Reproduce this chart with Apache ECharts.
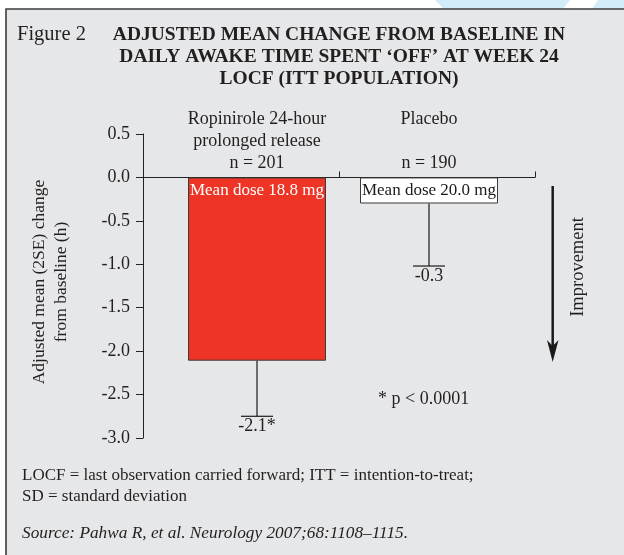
<!DOCTYPE html>
<html>
<head>
<meta charset="utf-8">
<script src="https://cdn.jsdelivr.net/npm/echarts@6/dist/echarts.min.js"></script>
<style>
html,body{margin:0;padding:0;background:#fff;}
#c{width:624px;height:555px;}
</style>
</head>
<body>
<div id="c"></div>
<script>
// ---- data ----
var categories = ['Ropinirole 24-hour\nprolonged release\nn = 201', 'Placebo\n\nn = 190'];
var means = [-2.11, -0.3];
var lowerLimits = [-2.75, -1.02];
var meanLabels = ['-2.1*', '-0.3'];
var doseLabels = ['Mean dose 18.8 mg', 'Mean dose 20.0 mg'];
var barColors = ['#ee3425', '#ffffff'];
var doseLabelColors = ['#ffffff', '#1a1a1a'];
var yTicks = { min: -3.0, max: 0.5, interval: 0.5 };

var FONT = '"Liberation Serif", "Times New Roman", serif';
var TXT = '#231f20';

var chart = echarts.init(document.getElementById('c'), null, { renderer: 'canvas' });

var barData = means.map(function (v, i) {
  return {
    value: v,
    itemStyle: { color: barColors[i], borderColor: '#3a3a3a', borderWidth: 1 },
    label: { formatter: doseLabels[i], color: doseLabelColors[i] }
  };
});
var errData = means.map(function (v, i) { return [i, v, lowerLimits[i]]; });

var option = {
  backgroundColor: '#ffffff',
  animation: false,
  textStyle: { fontFamily: FONT },
  graphic: [
    { type: 'polygon', z: -10, shape: { points: [[435, 0], [570, 0], [563, 9], [444, 9]] }, style: { fill: '#d2ecf9' } },
    { type: 'polygon', z: -10, shape: { points: [[598, 0], [624, 0], [624, 9], [592, 9]] }, style: { fill: '#d2ecf9' } },
    { type: 'rect', z: -9, shape: { x: 6, y: 9, width: 640, height: 560 }, style: { fill: '#e6e7e8', stroke: '#3c3c3c', lineWidth: 1.6 } },
    { type: 'text', x: 17, y: 35, style: { text: 'Figure 2', font: '20.5px ' + FONT, fill: TXT, align: 'left', verticalAlign: 'middle' } },
    { type: 'text', x: 339, y: 24, style: { text: 'ADJUSTED MEAN CHANGE FROM BASELINE IN\nDAILY AWAKE TIME SPENT \u2018OFF\u2019 AT WEEK 24\nLOCF (ITT POPULATION)', font: 'bold 19.5px ' + FONT, lineHeight: 22, fill: TXT, align: 'center', verticalAlign: 'top' } },
    { type: 'text', x: 50.5, y: 282, rotation: Math.PI / 2, style: { text: 'Adjusted mean (2SE) change\nfrom baseline (h)', font: '17.5px ' + FONT, lineHeight: 22, fill: TXT, align: 'center', verticalAlign: 'middle' } },
    { type: 'text', x: 578, y: 267, rotation: Math.PI / 2, style: { text: 'Improvement', font: '18.5px ' + FONT, fill: TXT, align: 'center', verticalAlign: 'middle' } },
    { type: 'line', shape: { x1: 552.7, y1: 186, x2: 552.7, y2: 348 }, style: { stroke: '#1a1a1a', lineWidth: 2.5 } },
    { type: 'polygon', shape: { points: [[547, 340], [552.7, 346], [558.5, 340], [552.7, 362]] }, style: { fill: '#1a1a1a' } },
    { type: 'text', x: 378, y: 399, style: { text: '* p < 0.0001', font: '18px ' + FONT, fill: TXT, align: 'left', verticalAlign: 'middle' } },
    { type: 'text', x: 22, y: 476, style: { text: 'LOCF = last observation carried forward; ITT = intention-to-treat;', font: '17px ' + FONT, fill: TXT, align: 'left', verticalAlign: 'middle' } },
    { type: 'text', x: 22, y: 497, style: { text: 'SD = standard deviation', font: '17px ' + FONT, fill: TXT, align: 'left', verticalAlign: 'middle' } },
    { type: 'text', x: 22, y: 533, style: { text: 'Source: Pahwa R, et al. Neurology 2007;68:1108\u20131115.', font: 'italic 17.3px ' + FONT, fill: TXT, align: 'left', verticalAlign: 'middle' } }
  ],
  grid: [
    { left: 143, width: 392, top: 134, height: 304 },
    { left: 171, width: 344, top: 134, height: 304 }
  ],
  xAxis: [
    {
      gridIndex: 0, type: 'category', data: categories, position: 'top',
      axisLine: { onZero: true, lineStyle: { color: '#222', width: 1 } },
      axisTick: { show: true, length: 6, lineStyle: { color: '#222' } },
      axisLabel: { show: false }, splitLine: { show: false }
    },
    {
      gridIndex: 1, type: 'category', data: categories, position: 'top',
      axisLine: { show: false }, axisTick: { show: false },
      axisLabel: { show: false },
      splitLine: { show: false }
    }
  ],
  yAxis: [
    {
      gridIndex: 0, type: 'value', min: yTicks.min, max: yTicks.max, interval: yTicks.interval,
      axisLine: { show: true, lineStyle: { color: '#222', width: 1 } },
      axisTick: { show: true, length: 7, lineStyle: { color: '#222' } },
      axisLabel: { margin: 13, fontSize: 18, color: TXT, fontFamily: FONT, formatter: function (v) { return v.toFixed(1); } },
      splitLine: { show: false }
    },
    {
      gridIndex: 1, type: 'value', min: yTicks.min, max: yTicks.max, interval: yTicks.interval, show: false,
      splitLine: { show: false }
    }
  ],
  series: [
    {
      type: 'bar', xAxisIndex: 1, yAxisIndex: 1, barWidth: 138, data: barData,
      label: { show: true, position: 'insideTop', distance: 5, fontSize: 17, fontFamily: FONT }
    },
    {
      type: 'custom', xAxisIndex: 1, yAxisIndex: 1, z: 5, data: errData,
      renderItem: function (params, api) {
        var i = params.dataIndex;
        var top = api.coord([api.value(0), api.value(1)]);
        var low = api.coord([api.value(0), api.value(2)]);
        var zero = api.coord([api.value(0), 0]);
        var half = 16;
        return {
          type: 'group',
          children: [
            { type: 'line', shape: { x1: low[0], y1: top[1], x2: low[0], y2: low[1] }, style: { stroke: '#1a1a1a', lineWidth: 1.2 } },
            { type: 'line', shape: { x1: low[0] - half, y1: low[1], x2: low[0] + half, y2: low[1] }, style: { stroke: '#1a1a1a', lineWidth: 1.2 } },
            { type: 'text', x: low[0], y: low[1] + 1, style: { text: meanLabels[i], font: '18px ' + FONT, fill: TXT, align: 'center', verticalAlign: 'top' } },
            { type: 'text', x: zero[0], y: zero[1] - 3, style: { text: categories[i], font: '18px ' + FONT, lineHeight: 22, fill: TXT, align: 'center', verticalAlign: 'bottom' } }
          ]
        };
      }
    }
  ]
};
chart.setOption(option);
</script>
</body>
</html>
